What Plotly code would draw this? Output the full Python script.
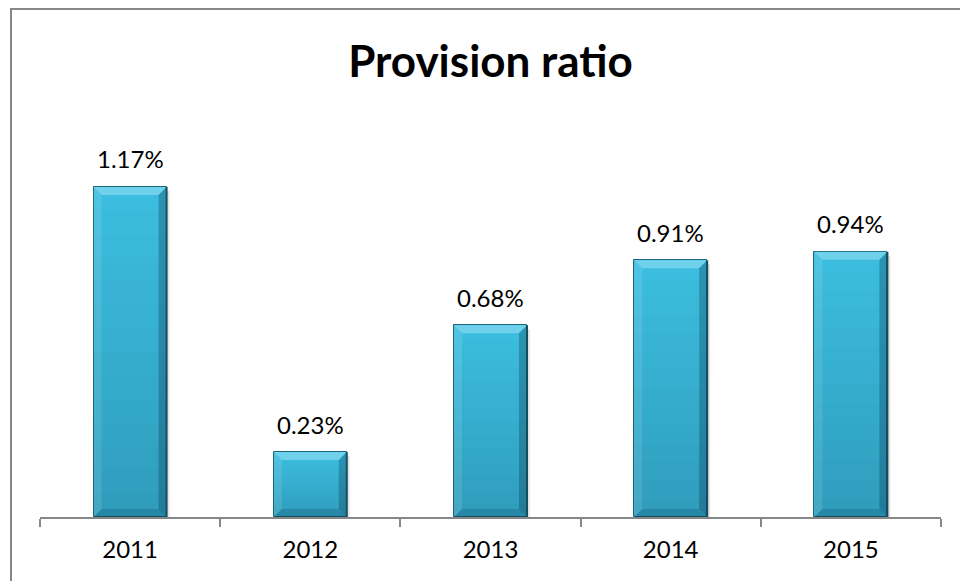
import plotly.graph_objects as go

# Provision ratio by year (%)
years = ["2011", "2012", "2013", "2014", "2015"]
ratios = [1.17, 0.23, 0.68, 0.91, 0.94]
labels = ["1.17%", "0.23%", "0.68%", "0.91%", "0.94%"]

W, H = 960, 581
ML, MR, MT, MB = 40, 19, 122, 64
Y_MAX = 1.4
BAR_W = 0.405

plot_w = W - ML - MR
plot_h = H - MT - MB
px_x = plot_w / len(years)      # pixels per category unit
px_y = plot_h / Y_MAX           # pixels per percent unit

BASE = "#3DBFE1"
FONT = "Lato, 'Open Sans', sans-serif"

fig = go.Figure()
fig.add_trace(go.Bar(
    x=years, y=ratios, width=BAR_W,
    marker=dict(color=BASE, line=dict(color="#1D6579", width=1)),
    hoverinfo="x+y",
))

shapes = []
bev_x = 8 / px_x
bev_y = 8 / px_y
for i, v in enumerate(ratios):
    x0, x1 = i - BAR_W / 2, i + BAR_W / 2
    # soft drop shadow under the bar
    shapes.append(dict(type="rect", xref="x", yref="y", layer="below",
                       x0=x0 + 2 / px_x, x1=x1 + 3 / px_x, y0=-3 / px_y, y1=v - 4 / px_y,
                       fillcolor="rgba(0,0,0,0.10)", line=dict(width=0)))
    # vertical shading, darker toward the base
    n = 14
    for k in range(n):
        ya = v * k / n
        yb = v * (k + 1) / n
        alpha = 0.22 * (1 - (k + 0.5) / n)
        shapes.append(dict(type="rect", xref="x", yref="y", layer="above",
                           x0=x0, x1=x1, y0=ya, y1=yb,
                           fillcolor=f"rgba(0,35,55,{alpha:.3f})", line=dict(width=0)))
    # bevel: top highlight
    shapes.append(dict(type="path", xref="x", yref="y", layer="above",
                       path=f"M{x0},{v} L{x1},{v} L{x1 - bev_x},{v - bev_y} L{x0 + bev_x},{v - bev_y} Z",
                       fillcolor="rgba(190,240,255,0.40)", line=dict(width=0)))
    # bevel: left edge
    shapes.append(dict(type="path", xref="x", yref="y", layer="above",
                       path=f"M{x0},{v} L{x0 + bev_x},{v - bev_y} L{x0 + bev_x},{bev_y} L{x0},0 Z",
                       fillcolor="rgba(255,255,255,0.10)", line=dict(width=0)))
    # bevel: right edge
    shapes.append(dict(type="path", xref="x", yref="y", layer="above",
                       path=f"M{x1},{v} L{x1 - bev_x},{v - bev_y} L{x1 - bev_x},{bev_y} L{x1},0 Z",
                       fillcolor="rgba(0,40,60,0.28)", line=dict(width=0)))
    # bevel: bottom edge
    shapes.append(dict(type="path", xref="x", yref="y", layer="above",
                       path=f"M{x0},0 L{x1},0 L{x1 - bev_x},{bev_y} L{x0 + bev_x},{bev_y} Z",
                       fillcolor="rgba(0,40,60,0.18)", line=dict(width=0)))
    # dark outline on the right side
    shapes.append(dict(type="line", xref="x", yref="y", layer="above",
                       x0=x1, x1=x1, y0=0, y1=v,
                       line=dict(color="#174E5E", width=2)))

# chart frame
shapes.append(dict(type="rect", xref="paper", yref="paper", layer="above",
                   x0=(11 - ML) / plot_w, x1=(W + 20 - ML) / plot_w,
                   y0=-(MB + 20) / plot_h, y1=(H - MB - 9) / plot_h,
                   line=dict(color="#878787", width=2), fillcolor="rgba(0,0,0,0)"))

annotations = [
    dict(x=i, y=v, xref="x", yref="y", text=t, showarrow=False,
         yanchor="middle", yshift=28,
         font=dict(family=FONT, size=24, color="#000000"))
    for i, (v, t) in enumerate(zip(ratios, labels))
]

fig.update_layout(
    width=W, height=H,
    margin=dict(l=ML, r=MR, t=MT, b=MB),
    paper_bgcolor="white", plot_bgcolor="white",
    showlegend=False, bargap=0,
    title=dict(text="<b>Provision ratio</b>", x=0.5, xref="paper",
               y=1 - 62 / H, yref="container", yanchor="middle", xanchor="center",
               font=dict(family=FONT, size=44, color="#000000")),
    xaxis=dict(type="category", tickson="boundaries", ticks="outside", ticklen=8,
               tickwidth=2, tickcolor="#878787", showline=True, linecolor="#878787",
               linewidth=2, showgrid=False, zeroline=False, ticklabelstandoff=10,
               tickfont=dict(family=FONT, size=24, color="#000000")),
    yaxis=dict(range=[0, Y_MAX], visible=False, showgrid=False, zeroline=False),
    shapes=shapes,
    annotations=annotations,
)

fig.write_html("out.html")
